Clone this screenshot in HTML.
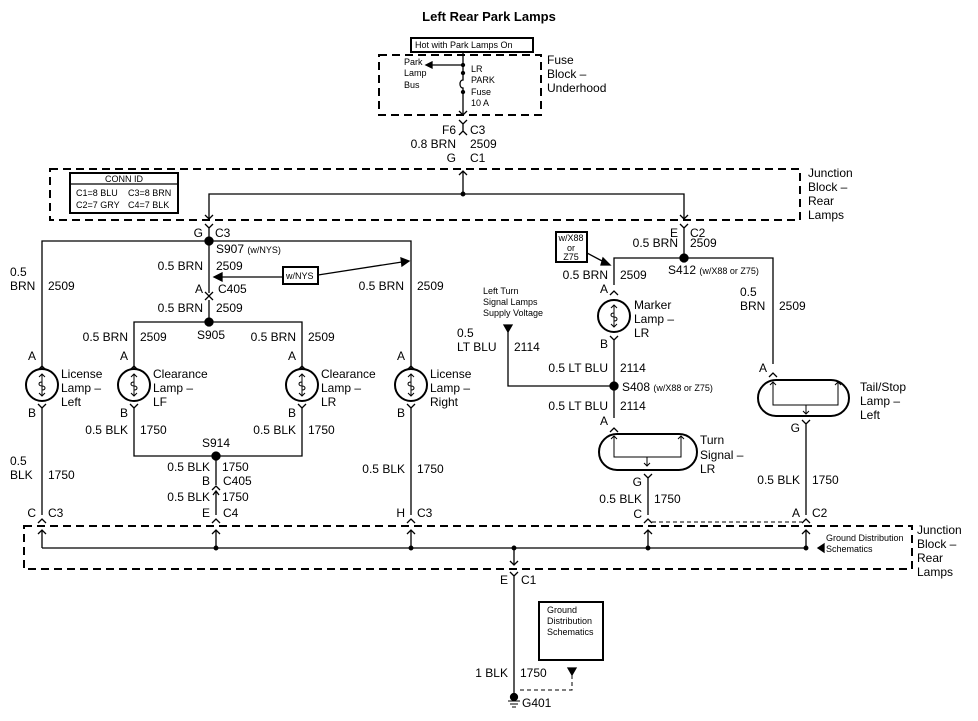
<!DOCTYPE html>
<html><head><meta charset="utf-8"><style>
html,body{margin:0;padding:0;background:#fff}
svg{display:block}
text{font-family:"Liberation Sans",Arial,sans-serif;font-size:12px;fill:#000}
.s{font-size:9px}
.m{font-size:10px}
.r{text-anchor:end}
</style></head><body>
<svg width="978" height="721" viewBox="0 0 978 721" xmlns="http://www.w3.org/2000/svg" fill="none" stroke="#000" stroke-width="1.3">
<defs>
<g id="lamp"><circle r="16" stroke-width="2"/><path d="M0 -11V11M-3 -8L0 -11L3 -8M-3 8L0 11L3 8M0 -3c-4 0-4 4 0 4c4 0 4 4 0 4" stroke-width="1"/></g>
<g id="up"><path d="M-4 4L0 0L4 4"/></g>
<g id="dn"><path d="M-4 -4L0 0L4 -4"/></g>
</defs>
<text x="489" y="21" text-anchor="middle" stroke="none" style="font-weight:bold;font-size:13px">Left Rear Park Lamps</text>
<!-- fuse block -->
<rect x="411" y="38" width="122" height="14" stroke-width="2"/>
<text x="415" y="48" class="s" stroke="none">Hot with Park Lamps On</text>
<rect x="379" y="55" width="162" height="60" stroke-dasharray="8,5" stroke-width="2"/>
<text x="547" y="64" stroke="none">Fuse</text><text x="547" y="78" stroke="none">Block –</text><text x="547" y="92" stroke="none">Underhood</text>
<path d="M463 52V80c-4 0-4 8 0 8V114"/><path d="M463 65H432"/><path d="M432 62L426 65L432 68Z" fill="#000"/>
<circle cx="463" cy="65" r="1.5" fill="#000"/><circle cx="463" cy="73" r="1.5" fill="#000"/><circle cx="463" cy="92" r="1.5" fill="#000"/>
<use href="#dn" x="463" y="115"/>
<text x="404" y="65" class="s" stroke="none">Park</text><text x="404" y="76" class="s" stroke="none">Lamp</text><text x="404" y="88" class="s" stroke="none">Bus</text>
<text x="471" y="72" class="s" stroke="none">LR</text><text x="471" y="83" class="s" stroke="none">PARK</text><text x="471" y="95" class="s" stroke="none">Fuse</text><text x="471" y="106" class="s" stroke="none">10 A</text>
<path d="M459 120L463 124L467 120M463 124V131M459 135L463 131L467 135"/>
<text x="456" y="134" class="r" stroke="none">F6</text><text x="470" y="134" stroke="none">C3</text>
<text x="456" y="148" class="r" stroke="none">0.8 BRN</text><text x="470" y="148" stroke="none">2509</text>
<text x="456" y="162" class="r" stroke="none">G</text><text x="470" y="162" stroke="none">C1</text>
<!-- junction top -->
<rect x="50" y="169" width="750" height="51" stroke-dasharray="8,5" stroke-width="2"/>
<text x="808" y="177" stroke="none">Junction</text><text x="808" y="191" stroke="none">Block –</text><text x="808" y="205" stroke="none">Rear</text><text x="808" y="219" stroke="none">Lamps</text>
<rect x="70" y="173" width="108" height="40" stroke-width="2"/><path d="M70 184H178"/>
<text x="124" y="182" class="s" text-anchor="middle" stroke="none">CONN ID</text>
<text x="76" y="196" class="s" stroke="none">C1=8 BLU</text><text x="128" y="196" class="s" stroke="none">C3=8 BRN</text>
<text x="76" y="208" class="s" stroke="none">C2=7 GRY</text><text x="128" y="208" class="s" stroke="none">C4=7 BLK</text>
<path d="M463 194V172"/><use href="#up" x="463" y="171"/>
<path d="M209 219V194H684V219"/><circle cx="463" cy="194" r="1.8" fill="#000"/>
<use href="#dn" x="209" y="219"/><use href="#dn" x="684" y="219"/>
<path d="M205 224L209 228L213 224M209 228V241M680 224L684 228L688 224M684 228V258"/>
<text x="203" y="237" class="r" stroke="none">G</text><text x="215" y="237" stroke="none">C3</text>
<text x="678" y="237" class="r" stroke="none">E</text><text x="690" y="237" stroke="none">C2</text>
<!-- left network -->
<path d="M42 369V241H411V369"/><circle cx="209" cy="241" r="4" fill="#000"/>
<text x="216" y="253" stroke="none">S907 <tspan class="s">(w/NYS)</tspan></text>
<path d="M209 241V293"/><use href="#dn" x="209" y="296"/><path d="M205 300L209 296L213 300M209 300V321"/>
<text x="203" y="270" class="r" stroke="none">0.5 BRN</text><text x="216" y="270" stroke="none">2509</text>
<rect x="283" y="267" width="35" height="17" stroke-width="2"/><text x="286" y="279" class="s" stroke="none">w/NYS</text>
<path d="M283 277H222"/><path d="M222 273L214 277L222 281Z" fill="#000"/>
<path d="M318 275L402 262"/><path d="M401 258L409 261L402 266Z" fill="#000"/>
<text x="203" y="293" class="r" stroke="none">A</text><text x="218" y="293" stroke="none">C405</text>
<text x="203" y="312" class="r" stroke="none">0.5 BRN</text><text x="216" y="312" stroke="none">2509</text>
<path d="M134 369V322H302V369"/><circle cx="209" cy="322" r="4" fill="#000"/>
<text x="197" y="339" stroke="none">S905</text>
<text x="10" y="276" stroke="none">0.5</text><text x="10" y="290" stroke="none">BRN</text><text x="48" y="290" stroke="none">2509</text>
<text x="404" y="290" class="r" stroke="none">0.5 BRN</text><text x="417" y="290" stroke="none">2509</text>
<text x="128" y="341" class="r" stroke="none">0.5 BRN</text><text x="140" y="341" stroke="none">2509</text>
<text x="296" y="341" class="r" stroke="none">0.5 BRN</text><text x="308" y="341" stroke="none">2509</text>
<!-- lamps -->
<g><use href="#lamp" x="42" y="385"/><use href="#lamp" x="134" y="385"/><use href="#lamp" x="302" y="385"/><use href="#lamp" x="411" y="385"/></g>
<use href="#up" x="42" y="366"/><use href="#up" x="134" y="366"/><use href="#up" x="302" y="366"/><use href="#up" x="411" y="366"/>
<path d="M38 404L42 408L46 404M130 404L134 408L138 404M298 404L302 408L306 404M407 404L411 408L415 404"/>
<text x="36" y="360" class="r" stroke="none">A</text><text x="128" y="360" class="r" stroke="none">A</text><text x="296" y="360" class="r" stroke="none">A</text><text x="405" y="360" class="r" stroke="none">A</text>
<text x="36" y="417" class="r" stroke="none">B</text><text x="128" y="417" class="r" stroke="none">B</text><text x="296" y="417" class="r" stroke="none">B</text><text x="405" y="417" class="r" stroke="none">B</text>
<text x="61" y="378" stroke="none">License</text><text x="61" y="392" stroke="none">Lamp –</text><text x="61" y="406" stroke="none">Left</text>
<text x="153" y="378" stroke="none">Clearance</text><text x="153" y="392" stroke="none">Lamp –</text><text x="153" y="406" stroke="none">LF</text>
<text x="321" y="378" stroke="none">Clearance</text><text x="321" y="392" stroke="none">Lamp –</text><text x="321" y="406" stroke="none">LR</text>
<text x="430" y="378" stroke="none">License</text><text x="430" y="392" stroke="none">Lamp –</text><text x="430" y="406" stroke="none">Right</text>
<path d="M42 408V515M411 408V515M134 408V456H302V408M216 456V485"/>
<circle cx="216" cy="456" r="4" fill="#000"/>
<text x="202" y="447" stroke="none">S914</text>
<text x="128" y="434" class="r" stroke="none">0.5 BLK</text><text x="140" y="434" stroke="none">1750</text>
<text x="296" y="434" class="r" stroke="none">0.5 BLK</text><text x="308" y="434" stroke="none">1750</text>
<text x="10" y="465" stroke="none">0.5</text><text x="10" y="479" stroke="none">BLK</text><text x="48" y="479" stroke="none">1750</text>
<text x="405" y="473" class="r" stroke="none">0.5 BLK</text><text x="417" y="473" stroke="none">1750</text>
<text x="210" y="471" class="r" stroke="none">0.5 BLK</text><text x="222" y="471" stroke="none">1750</text>
<text x="210" y="485" class="r" stroke="none">B</text><text x="223" y="485" stroke="none">C405</text>
<use href="#up" x="216" y="486"/><path d="M216 492V515M213 495L216 491L219 495" />
<text x="210" y="501" class="r" stroke="none">0.5 BLK</text><text x="222" y="501" stroke="none">1750</text>
<text x="36" y="517" class="r" stroke="none">C</text><text x="48" y="517" stroke="none">C3</text>
<text x="210" y="517" class="r" stroke="none">E</text><text x="223" y="517" stroke="none">C4</text>
<text x="405" y="517" class="r" stroke="none">H</text><text x="417" y="517" stroke="none">C3</text>
<!-- right network -->
<path d="M614 285V258H773V364"/><circle cx="684" cy="258" r="4" fill="#000"/>
<text x="678" y="247" class="r" stroke="none">0.5 BRN</text><text x="690" y="247" stroke="none">2509</text>
<text x="668" y="274" stroke="none">S412 <tspan class="s">(w/X88 or Z75)</tspan></text>
<rect x="556" y="232" width="31" height="30" stroke-width="2"/>
<text x="571" y="241" class="s" text-anchor="middle" stroke="none">w/X88</text><text x="571" y="251" class="s" text-anchor="middle" stroke="none">or</text><text x="571" y="260" class="s" text-anchor="middle" stroke="none">Z75</text>
<path d="M587 253L604 262"/><path d="M603 258L610 265L601 265Z" fill="#000"/>
<text x="608" y="279" class="r" stroke="none">0.5 BRN</text><text x="620" y="279" stroke="none">2509</text>
<text x="608" y="293" class="r" stroke="none">A</text><use href="#up" x="614" y="291"/>
<use href="#lamp" x="614" y="316"/>
<text x="634" y="309" stroke="none">Marker</text><text x="634" y="323" stroke="none">Lamp –</text><text x="634" y="337" stroke="none">LR</text>
<path d="M610 336L614 340L618 336M614 340V418"/>
<text x="608" y="348" class="r" stroke="none">B</text>
<text x="608" y="372" class="r" stroke="none">0.5 LT BLU</text><text x="620" y="372" stroke="none">2114</text>
<circle cx="614" cy="386" r="4" fill="#000"/><path d="M614 386H508V330"/><path d="M504 325H512L508 332Z" fill="#000"/>
<text x="622" y="391" stroke="none">S408 <tspan class="s">(w/X88 or Z75)</tspan></text>
<text x="483" y="294" class="s" stroke="none">Left Turn</text><text x="483" y="305" class="s" stroke="none">Signal Lamps</text><text x="483" y="316" class="s" stroke="none">Supply Voltage</text>
<text x="457" y="337" stroke="none">0.5</text><text x="457" y="351" stroke="none">LT BLU</text><text x="514" y="351" stroke="none">2114</text>
<text x="608" y="410" class="r" stroke="none">0.5 LT BLU</text><text x="620" y="410" stroke="none">2114</text>
<text x="608" y="425" class="r" stroke="none">A</text><use href="#up" x="614" y="428"/>
<rect x="599" y="434" width="98" height="36" rx="18" stroke-width="2"/>
<path d="M614 436V457H681V436M611 439L614 436L617 439M678 439L681 436L684 439M647 457V466M644 463L647 466L650 463" stroke-width="1"/>
<text x="700" y="444" stroke="none">Turn</text><text x="700" y="459" stroke="none">Signal –</text><text x="700" y="473" stroke="none">LR</text>
<path d="M644 474L648 478L652 474M648 478V515"/>
<text x="642" y="486" class="r" stroke="none">G</text>
<text x="642" y="503" class="r" stroke="none">0.5 BLK</text><text x="654" y="503" stroke="none">1750</text>
<text x="642" y="518" class="r" stroke="none">C</text>
<text x="767" y="372" class="r" stroke="none">A</text><use href="#up" x="773" y="373"/>
<text x="740" y="296" stroke="none">0.5</text><text x="740" y="310" stroke="none">BRN</text><text x="779" y="310" stroke="none">2509</text>
<rect x="758" y="380" width="91" height="36" rx="18" stroke-width="2"/>
<path d="M773 382V405H838V382M770 385L773 382L776 385M835 385L838 382L841 385M806 405V414M803 411L806 414L809 411" stroke-width="1"/>
<text x="860" y="391" stroke="none">Tail/Stop</text><text x="860" y="405" stroke="none">Lamp –</text><text x="860" y="419" stroke="none">Left</text>
<path d="M802 420L806 424L810 420M806 424V515"/>
<text x="800" y="432" class="r" stroke="none">G</text>
<text x="800" y="484" class="r" stroke="none">0.5 BLK</text><text x="812" y="484" stroke="none">1750</text>
<text x="800" y="517" class="r" stroke="none">A</text><text x="812" y="517" stroke="none">C2</text>
<path d="M652 522H802" stroke-dasharray="4,3" stroke-width="1"/>
<!-- bottom junction -->
<rect x="24" y="526" width="888" height="43" stroke-dasharray="8,5" stroke-width="2"/>
<text x="917" y="534" stroke="none">Junction</text><text x="917" y="548" stroke="none">Block –</text><text x="917" y="562" stroke="none">Rear</text><text x="917" y="576" stroke="none">Lamps</text>
<g><use href="#up" x="42" y="519"/><use href="#up" x="216" y="519"/><use href="#up" x="411" y="519"/><use href="#up" x="648" y="519"/><use href="#up" x="806" y="519"/></g>
<path d="M42 548V531M216 548V531M411 548V531M648 548V531M806 548V531M42 548H806M514 548V565"/>
<g><use href="#up" x="42" y="530"/><use href="#up" x="216" y="530"/><use href="#up" x="411" y="530"/><use href="#up" x="648" y="530"/><use href="#up" x="806" y="530"/><use href="#dn" x="514" y="565"/></g>
<g fill="#000"><circle cx="216" cy="548" r="1.8"/><circle cx="411" cy="548" r="1.8"/><circle cx="514" cy="548" r="1.8"/><circle cx="648" cy="548" r="1.8"/><circle cx="806" cy="548" r="1.8"/></g>
<path d="M824 544L818 548L824 552Z" fill="#000"/>
<text x="826" y="541" class="s" stroke="none">Ground Distribution</text><text x="826" y="552" class="s" stroke="none">Schematics</text>
<path d="M510 572L514 576L518 572M514 576V693"/>
<text x="508" y="584" class="r" stroke="none">E</text><text x="521" y="584" stroke="none">C1</text>
<rect x="539" y="602" width="64" height="58" stroke-width="2"/>
<text x="547" y="613" class="s" stroke="none">Ground</text><text x="547" y="624" class="s" stroke="none">Distribution</text><text x="547" y="635" class="s" stroke="none">Schematics</text>
<text x="508" y="677" class="r" stroke="none">1 BLK</text><text x="520" y="677" stroke="none">1750</text>
<path d="M568 668H576L572 675Z" fill="#000"/><path d="M572 675V690H518" stroke-dasharray="4,3" stroke-width="1"/>
<circle cx="514" cy="697" r="3.5" fill="#000"/><path d="M508 701H520M510 704H518M512 707H516" stroke-width="1"/>
<text x="522" y="707" stroke="none">G401</text>
</svg>
</body></html>
